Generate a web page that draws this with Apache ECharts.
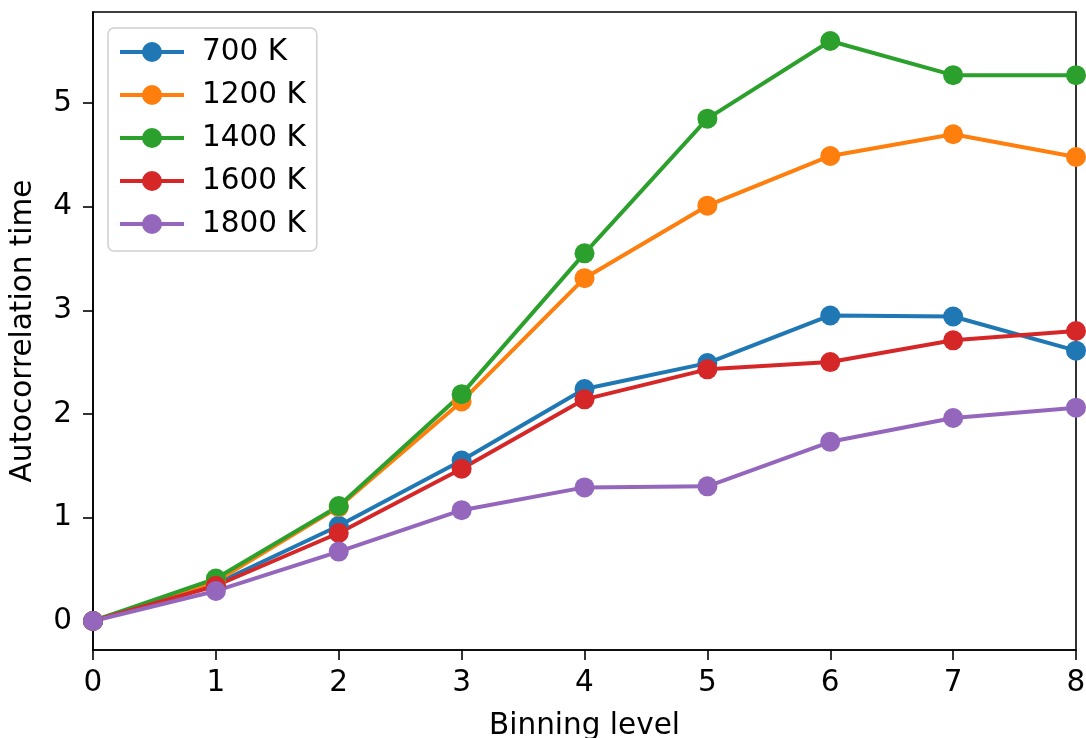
<!DOCTYPE html>
<html>
<head>
<meta charset="utf-8">
<script src="https://cdn.jsdelivr.net/npm/echarts@6/dist/echarts.min.js"></script>
<style>html,body{margin:0;padding:0;background:#fff;}#c{width:1086px;height:738px;}</style>
</head>
<body>
<div id="c"></div>
<script>
const levels = [0, 1, 2, 3, 4, 5, 6, 7, 8];
const seriesNames = ['700 K', '1200 K', '1400 K', '1600 K', '1800 K'];
const s700  = [0, 0.36, 0.92, 1.55, 2.24, 2.49, 2.95, 2.94, 2.61];
const s1200 = [0, 0.38, 1.10, 2.12, 3.31, 4.01, 4.49, 4.70, 4.48];
const s1400 = [0, 0.41, 1.11, 2.19, 3.55, 4.85, 5.60, 5.27, 5.27];
const s1600 = [0, 0.34, 0.85, 1.47, 2.14, 2.43, 2.50, 2.71, 2.80];
const s1800 = [0, 0.29, 0.67, 1.07, 1.29, 1.30, 1.73, 1.96, 2.06];
const yTicks = [0, 1, 2, 3, 4, 5];
const colors = ['#1f77b4', '#ff7f0e', '#2ca02c', '#d62728', '#9467bd'];
const allData = [s700, s1200, s1400, s1600, s1800];

const font = 'DejaVu Sans';
const fs = 29.5;
const chart = echarts.init(document.getElementById('c'));
chart.setOption({
  animation: false,
  textStyle: { fontFamily: font },
  grid: { left: 93, right: 10, top: 12, bottom: 88, outerBoundsMode: 'none', containLabel: false,
          show: true, borderColor: '#000', borderWidth: 1.6, backgroundColor: 'transparent' },
  legend: {
    left: 108, top: 28, orient: 'vertical',
    data: seriesNames,
    itemWidth: 64, itemHeight: 25, itemGap: 13,
    lineStyle: { width: 4 },
    backgroundColor: '#fff', borderColor: '#d0d0d0', borderWidth: 1.5, borderRadius: 6,
    padding: [9, 11, 12, 10],
    textStyle: { fontFamily: font, fontSize: fs, lineHeight: 30, color: '#000', padding: [0, 0, 0, 13] }
  },
  xAxis: {
    type: 'value', min: 0, max: 8, interval: 1,
    name: 'Binning level', nameLocation: 'middle', nameGap: 61,
    nameTextStyle: { fontFamily: font, fontSize: fs, color: '#000' },
    axisLine: { show: true, onZero: false, lineStyle: { color: '#000', width: 1.6 } },
    axisTick: { show: true, length: 10, lineStyle: { color: '#000', width: 1.6 } },
    axisLabel: { fontFamily: font, fontSize: fs, color: '#000', margin: 18 },
    splitLine: { show: false }
  },
  yAxis: {
    type: 'value', min: -0.28, max: 5.88,
    name: 'Autocorrelation time', nameLocation: 'middle', nameGap: 55, nameRotate: 90,
    nameTextStyle: { fontFamily: font, fontSize: fs, color: '#000' },
    axisLine: { show: true, onZero: false, lineStyle: { color: '#000', width: 1.6 } },
    axisTick: { show: true, length: 10, customValues: yTicks, lineStyle: { color: '#000', width: 1.6 } },
    axisLabel: { fontFamily: font, fontSize: fs, color: '#000', margin: 21, customValues: yTicks },
    splitLine: { show: false }
  },
  series: seriesNames.map((n, i) => ({
    name: n, type: 'line',
    data: levels.map((x, j) => [x, allData[i][j]]),
    symbol: 'circle', symbolSize: 20,
    lineStyle: { color: colors[i], width: 4 },
    itemStyle: { color: colors[i] },
    clip: true
  }))
});
</script>
</body>
</html>
